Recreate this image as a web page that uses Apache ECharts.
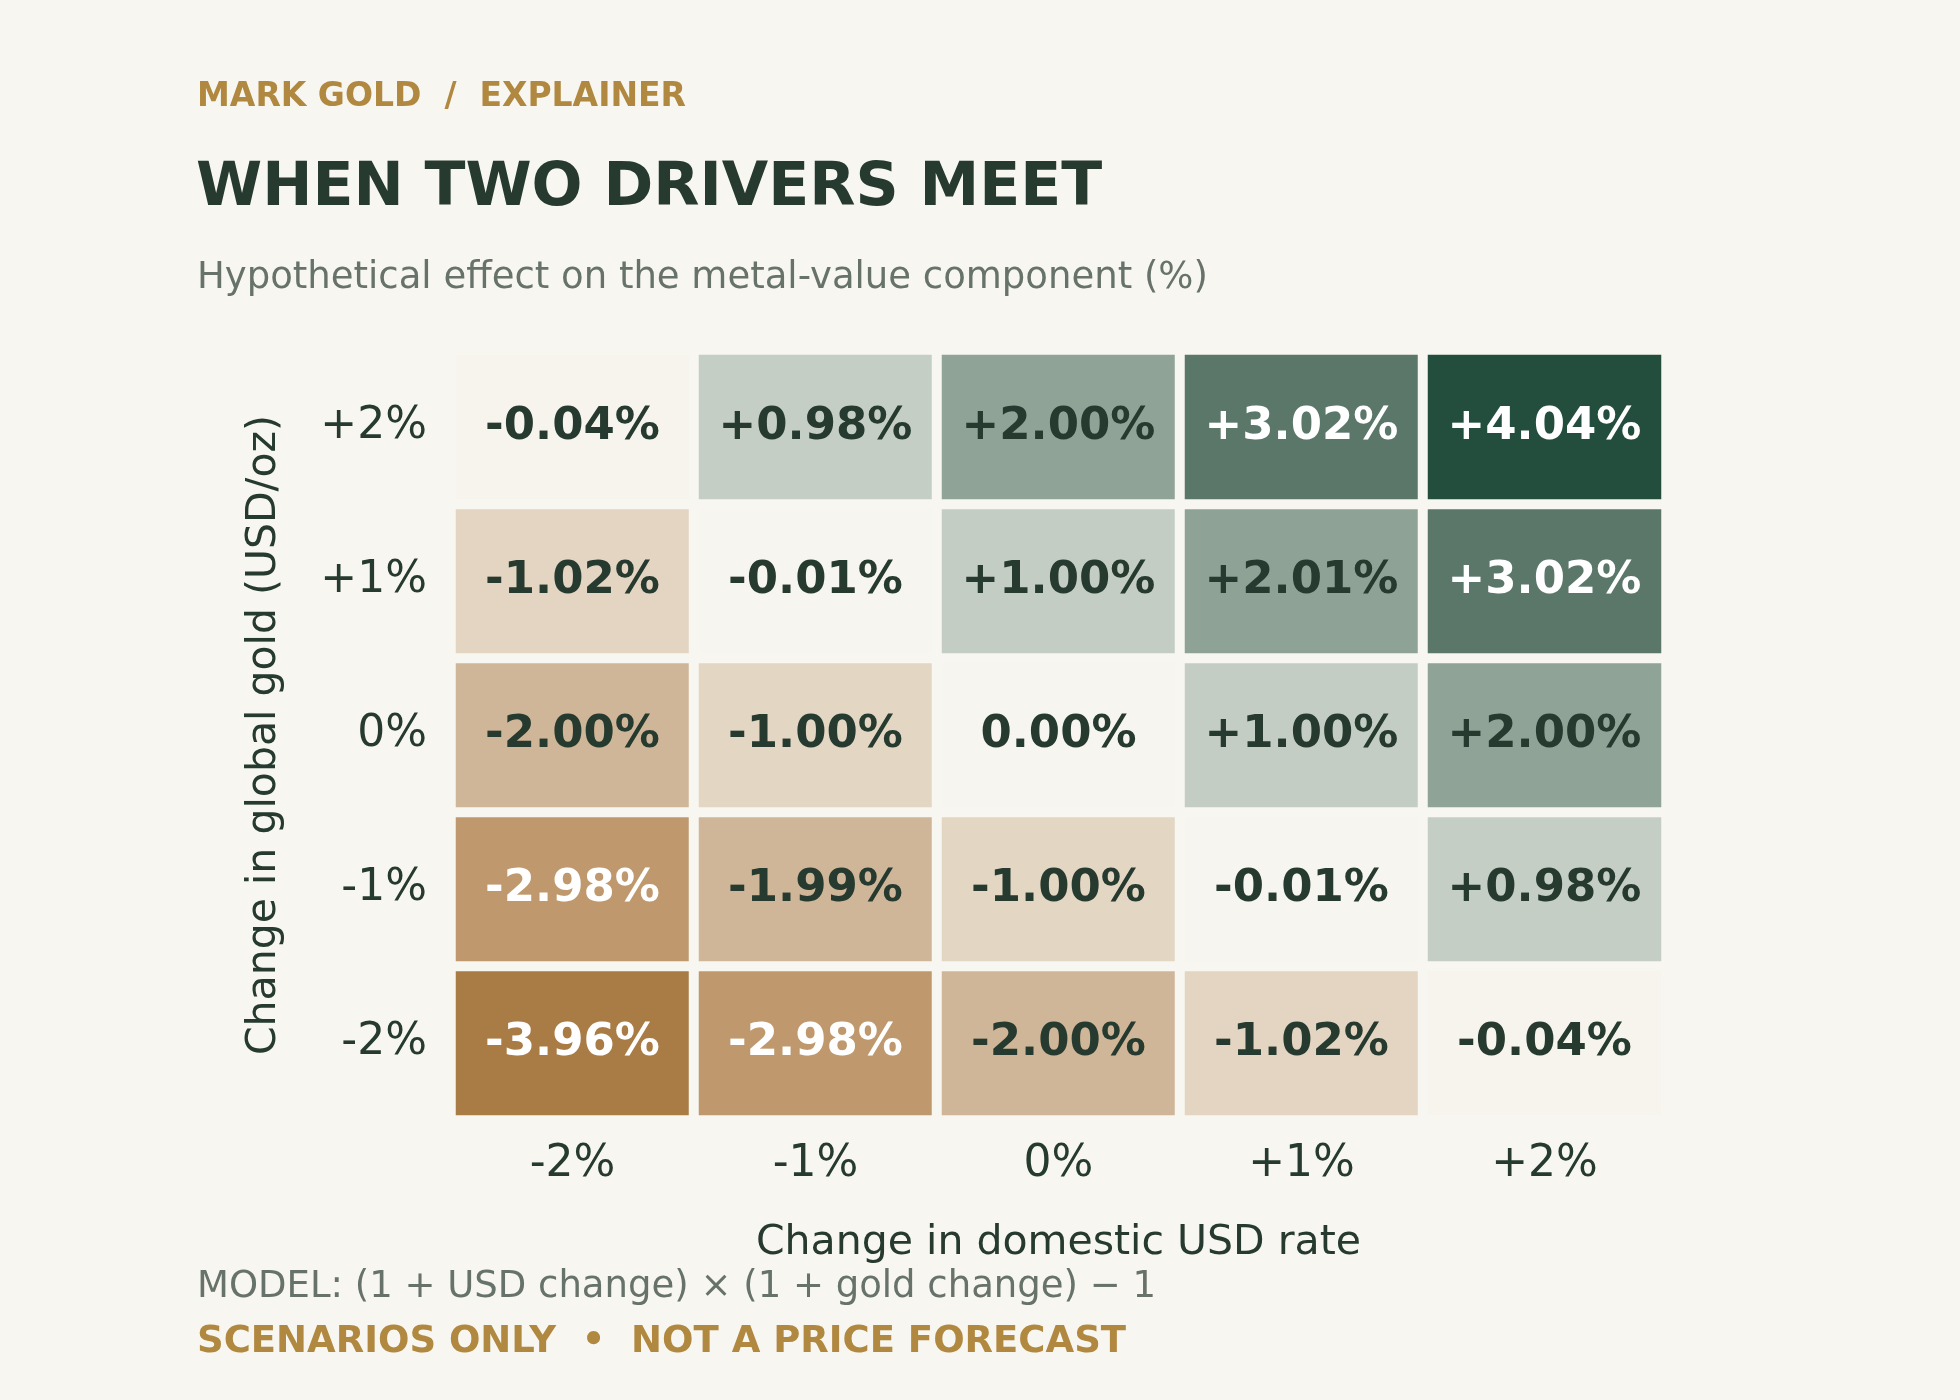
<!DOCTYPE html>
<html>
<head>
<meta charset="utf-8">
<script src="https://cdn.jsdelivr.net/npm/echarts@6/dist/echarts.min.js"></script>
<style>
  html, body { margin: 0; padding: 0; background: #f7f6f0; }
  #chart { width: 1960px; height: 1400px; }
</style>
</head>
<body>
<div id="chart"></div>
<script>
// Column categories: change in domestic USD rate
const usdChanges = ['-2%', '-1%', '0%', '+1%', '+2%'];
// Row categories (bottom to top): change in global gold
const goldChanges = ['-2%', '-1%', '0%', '+1%', '+2%'];

// Effect values, one array per gold row, columns follow usdChanges
const rowGoldMinus2 = [-3.96, -2.98, -2.00, -1.02, -0.04];
const rowGoldMinus1 = [-2.98, -1.99, -1.00, -0.01, 0.98];
const rowGold0      = [-2.00, -1.00, 0.00, 1.00, 2.00];
const rowGoldPlus1  = [-1.02, -0.01, 1.00, 2.01, 3.02];
const rowGoldPlus2  = [-0.04, 0.98, 2.00, 3.02, 4.04];

const rows = [rowGoldMinus2, rowGoldMinus1, rowGold0, rowGoldPlus1, rowGoldPlus2];

const BG = '#f7f6f0';
const DARK = '#263a2f';
const GOLD = '#b0883f';
const GREY = '#66726a';
const FONT = '"DejaVu Sans", "Noto Sans", sans-serif';

const heatData = [];
rows.forEach(function (row, yi) {
  row.forEach(function (v, xi) {
    heatData.push({
      value: [xi, yi, v],
      label: { color: Math.abs(v) >= 2.5 ? '#ffffff' : DARK }
    });
  });
});

function fmt(v) {
  if (v > 0) return '+' + v.toFixed(2) + '%';
  if (v < 0) return v.toFixed(2) + '%';
  return '0.00%';
}

const chart = echarts.init(document.getElementById('chart'), null, { renderer: 'canvas' });

chart.setOption({
  backgroundColor: BG,
  animation: false,
  grid: { left: 451, top: 350, width: 1215, height: 770, containLabel: false },
  xAxis: {
    type: 'category',
    data: usdChanges,
    position: 'bottom',
    axisLine: { show: false },
    axisTick: { show: false },
    splitLine: { show: false },
    axisLabel: { color: DARK, fontSize: 44, fontFamily: FONT, margin: 23 },
    name: 'Change in domestic USD rate',
    nameLocation: 'middle',
    nameGap: 103,
    nameTextStyle: { color: DARK, fontSize: 41, fontFamily: FONT }
  },
  yAxis: {
    type: 'category',
    data: goldChanges,
    axisLine: { show: false },
    axisTick: { show: false },
    splitLine: { show: false },
    axisLabel: { color: DARK, fontSize: 44, fontFamily: FONT, margin: 24 },
    name: 'Change in global gold (USD/oz)',
    nameLocation: 'middle',
    nameGap: 166,
    nameTextStyle: { color: DARK, fontSize: 41, fontFamily: FONT }
  },
  visualMap: {
    show: false,
    type: 'continuous',
    min: -4,
    max: 4,
    dimension: 2,
    inRange: {
      color: ['#a87a43', '#bf986c', '#d0b698', '#e3d6c3', '#f7f5ef',
              '#c3cdc4', '#8fa396', '#5c786a', '#234e3e']
    }
  },
  series: [{
    type: 'heatmap',
    data: heatData,
    itemStyle: { borderColor: BG, borderWidth: 10 },
    emphasis: { disabled: true },
    label: {
      show: true,
      fontSize: 45,
      fontWeight: 'bold',
      fontFamily: FONT,
      formatter: function (p) { return fmt(p.value[2]); }
    }
  }],
  graphic: [
    { type: 'text', x: 197, y: 97, style: { text: 'MARK GOLD  /  EXPLAINER', fill: GOLD, font: 'bold 33px ' + FONT, align: 'left', verticalAlign: 'middle' } },
    { type: 'text', x: 196, y: 189, style: { text: 'WHEN TWO DRIVERS MEET', fill: DARK, font: 'bold 60px ' + FONT, align: 'left', verticalAlign: 'middle' } },
    { type: 'text', x: 197, y: 278, style: { text: 'Hypothetical effect on the metal-value component (%)', fill: GREY, font: '37px ' + FONT, align: 'left', verticalAlign: 'middle' } },
    { type: 'text', x: 197, y: 1287, style: { text: 'MODEL: (1 + USD change) \u00d7 (1 + gold change) \u2212 1', fill: GREY, font: '37px ' + FONT, align: 'left', verticalAlign: 'middle' } },
    { type: 'text', x: 197, y: 1342, style: { text: 'SCENARIOS ONLY  \u2022  NOT A PRICE FORECAST', fill: GOLD, font: 'bold 37px ' + FONT, align: 'left', verticalAlign: 'middle' } }
  ]
});
</script>
</body>
</html>
